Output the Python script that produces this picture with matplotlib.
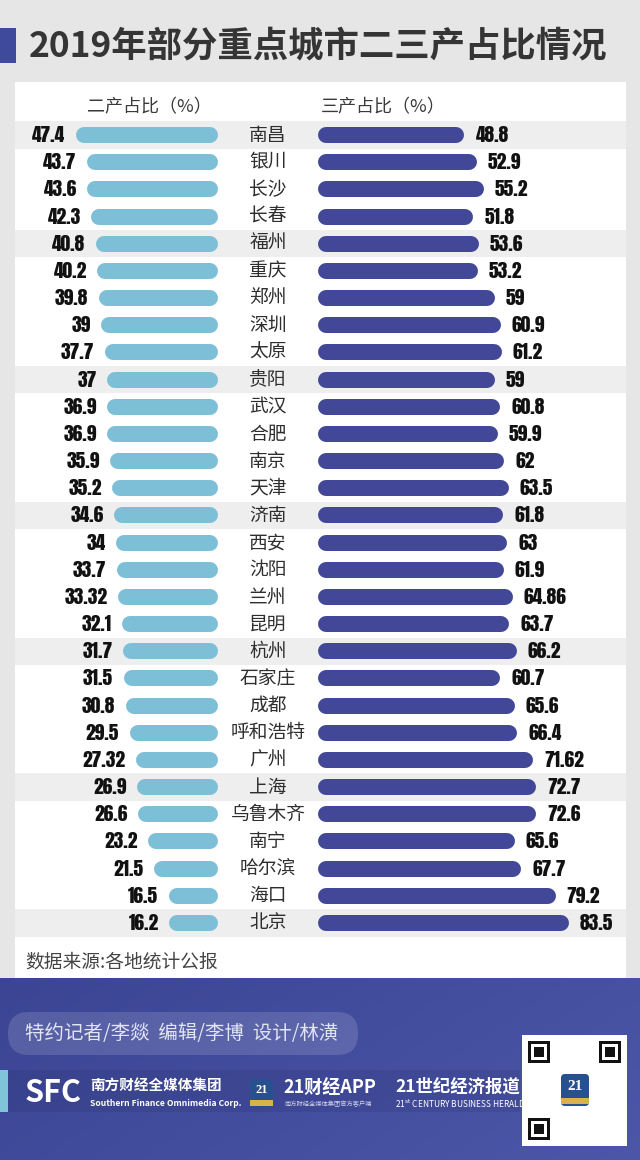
import matplotlib
matplotlib.use("Agg")
import matplotlib.pyplot as plt
from matplotlib.patches import Rectangle, FancyBboxPatch
import numpy as np

plt.rcParams['font.family'] = ['Noto Sans CJK SC', 'DejaVu Sans']

# ---- data ----
title = "2019年部分重点城市二三产占比情况"
header_left = "二产占比（%）"
header_right = "三产占比（%）"
cities = ["南昌", "银川", "长沙", "长春", "福州", "重庆", "郑州", "深圳", "太原", "贵阳",
          "武汉", "合肥", "南京", "天津", "济南", "西安", "沈阳", "兰州", "昆明", "杭州",
          "石家庄", "成都", "呼和浩特", "广州", "上海", "乌鲁木齐", "南宁", "哈尔滨", "海口", "北京"]
secondary = [47.4, 43.7, 43.6, 42.3, 40.8, 40.2, 39.8, 39, 37.7, 37,
             36.9, 36.9, 35.9, 35.2, 34.6, 34, 33.7, 33.32, 32.1, 31.7,
             31.5, 30.8, 29.5, 27.32, 26.9, 26.6, 23.2, 21.5, 16.5, 16.2]
tertiary = [48.8, 52.9, 55.2, 51.8, 53.6, 53.2, 59, 60.9, 61.2, 59,
            60.8, 59.9, 62, 63.5, 61.8, 63, 61.9, 64.86, 63.7, 66.2,
            60.7, 65.6, 66.4, 71.62, 72.7, 72.6, 65.6, 67.7, 79.2, 83.5]
shaded_rows = [0, 4, 9, 14, 19, 24, 29]
source = "数据来源:各地统计公报"
credits = "特约记者/李燚  编辑/李博  设计/林潢"

LIGHT = '#7dbfd6'
DARK = '#424897'
W, H = 640, 1160
NUM_FONT = ['Anton', 'Oswald', 'DejaVu Sans']

fig = plt.figure(figsize=(W / 100, H / 100), dpi=100)


def px_axes(x0, y0, x1, y1):
    return fig.add_axes([x0 / W, 1 - y1 / H, (x1 - x0) / W, (y1 - y0) / H])


# background in pixel coordinates
bg = px_axes(0, 0, W, H)
bg.axis('off')
bg.add_patch(Rectangle((0, 0), W, H, fc='#e6e6e6', ec='none'))
top_grad = np.linspace(0, 1, 100)[:, None] * np.ones((1, 2))
top_rgb = np.array([0.96, 0.96, 0.96]) * (1 - top_grad[..., None]) + np.array([0.88, 0.88, 0.88]) * top_grad[..., None]
bg.imshow(top_rgb, extent=(0, W, 85, 0), aspect='auto', zorder=0)
bg.add_patch(Rectangle((15, 82), 611, 896, fc='white', ec='none'))
bg.add_patch(Rectangle((0, 28), 16, 35, fc='#3f4a9c', ec='none'))
bg.text(29, 46, title, fontsize=25.5, fontweight='bold', color='#353535', ha='left', va='center')
bg.text(149, 107, header_left, fontsize=13, color='#3a3a3a', ha='center', va='center')
bg.text(383, 107, header_right, fontsize=13, color='#3a3a3a', ha='center', va='center')
bg.text(25, 962, source, fontsize=13.5, color='#444444', ha='left', va='center')

# footer
gx = np.linspace(0, 1, 200)[None, :]
gy = np.linspace(0, 1, 60)[:, None]
c0 = np.array([0.23, 0.27, 0.58])
c1 = np.array([0.30, 0.34, 0.66])
t = (0.7 * gx + 0.3 * gy)[..., None]
foot = c0 * (1 - t) + c1 * t
bg.imshow(foot, extent=(0, W, H, 978), aspect='auto', zorder=1)
bg.add_patch(FancyBboxPatch((8, 1012), 350, 43, boxstyle="round,pad=0,rounding_size=21",
                            fc=(1, 1, 1, 0.14), ec='none', zorder=2))
bg.text(25, 1034, credits, fontsize=14, color='#e2e5f3', ha='left', va='center', zorder=3)
bg.add_patch(Rectangle((8, 1070), 512, 42, fc=(0, 0, 0.1, 0.08), ec='none', zorder=2))
bg.add_patch(Rectangle((0, 1070), 8, 42, fc='#7fc4d9', ec='none', zorder=2))
bg.text(25, 1093, "SFC", fontsize=22, fontweight='bold', color='white', ha='left', va='center', zorder=3)
bg.text(90, 1086, "南方财经全媒体集团", fontsize=10.5, fontweight='bold', color='white', ha='left', va='center', zorder=3)
bg.text(90, 1103, "Southern Finance Omnimedia Corp.", fontsize=6.2, fontweight='bold', color='white',
        ha='left', va='center', zorder=3)
bg.add_patch(FancyBboxPatch((250, 1080), 23, 28, boxstyle="round,pad=0,rounding_size=4",
                            fc='#27508f', ec='none', zorder=3))
bg.add_patch(Rectangle((250, 1100), 23, 6, fc='#d8b24a', ec='none', zorder=3))
bg.text(261.5, 1090, "21", fontsize=9, fontweight='bold', color='white', ha='center', va='center',
        family=['Liberation Serif', 'DejaVu Serif'], zorder=4)
bg.text(283, 1088, "21财经APP", fontsize=13, fontweight='bold', style='italic', color='white',
        ha='left', va='center', zorder=3)
bg.text(285, 1104, "南方财经全媒体集团官方客户端", fontsize=4.5, color='#d0d4ee', ha='left', va='center', zorder=3)
bg.text(395, 1087, "21世纪经济报道", fontsize=12.5, fontweight='bold', color='white', ha='left', va='center', zorder=3)
bg.text(395, 1104, r"21$^{\rm st}$ CENTURY BUSINESS HERALD", fontsize=6, style='italic', color='white',
        ha='left', va='center', zorder=3)

# QR box
bg.add_patch(Rectangle((522, 1035), 105, 111, fc='white', ec='none', zorder=3))
for qx, qy in [(528, 1041), (599, 1041), (528, 1118)]:
    bg.add_patch(Rectangle((qx, qy), 22, 22, fc='#111111', ec='none', zorder=4))
    bg.add_patch(Rectangle((qx + 3, qy + 3), 16, 16, fc='white', ec='none', zorder=4))
    bg.add_patch(Rectangle((qx + 6, qy + 6), 10, 10, fc='#111111', ec='none', zorder=4))
bg.add_patch(FancyBboxPatch((561, 1074), 28, 32, boxstyle="round,pad=0,rounding_size=4",
                            fc='#27508f', ec='none', zorder=5))
bg.add_patch(Rectangle((561, 1098), 28, 6, fc='#d8b24a', ec='none', zorder=5))
bg.text(575, 1087, "21", fontsize=11, fontweight='bold', color='white', ha='center', va='center',
        family=['Liberation Serif', 'DejaVu Serif'], zorder=6)

bg.set_xlim(0, W)
bg.set_ylim(H, 0)

# rows
n = len(cities)
ROW0, STEP = 135, 27.17
top = ROW0 - STEP / 2
bot = ROW0 + (n - 0.5) * STEP
rows = np.arange(n)

mid = px_axes(0, top, W, bot)
mid.axis('off')
mid.set_xlim(0, W)
mid.set_ylim(n - 0.5, -0.5)
for i in shaded_rows:
    mid.axhspan(i - 0.5, i + 0.5, xmin=15 / W, xmax=626 / W, color='#eeeeee', lw=0)
for i, c in enumerate(cities):
    mid.text(268, i, c, fontsize=13.5, color='#2e2e2e', ha='center', va='center')

PX_PER_UNIT = 3.0
BAR_PX = 16
r = BAR_PX / 2 / PX_PER_UNIT
lw = BAR_PX * 0.72

left = px_axes(0, top, 218, bot)
left.axis('off')
left.set_xlim(218 / PX_PER_UNIT, 0)
left.set_ylim(n - 0.5, -0.5)
left.hlines(rows, r, np.array(secondary) - r, colors=LIGHT, lw=lw, capstyle='round')
for i, v in enumerate(secondary):
    left.annotate(f"{v:g}", (v, i), xytext=(-7.5, 0), textcoords='offset points',
                  ha='right', va='center', fontsize=14, family=NUM_FONT, color='#111111')

right = px_axes(318, top, W, bot)
right.axis('off')
right.set_xlim(0, (W - 318) / PX_PER_UNIT)
right.set_ylim(n - 0.5, -0.5)
right.hlines(rows, r, np.array(tertiary) - r, colors=DARK, lw=lw, capstyle='round')
for i, v in enumerate(tertiary):
    right.annotate(f"{v:g}", (v, i), xytext=(8, 0), textcoords='offset points',
                   ha='left', va='center', fontsize=14, family=NUM_FONT, color='#111111')

fig.savefig("out.png", dpi=100)
